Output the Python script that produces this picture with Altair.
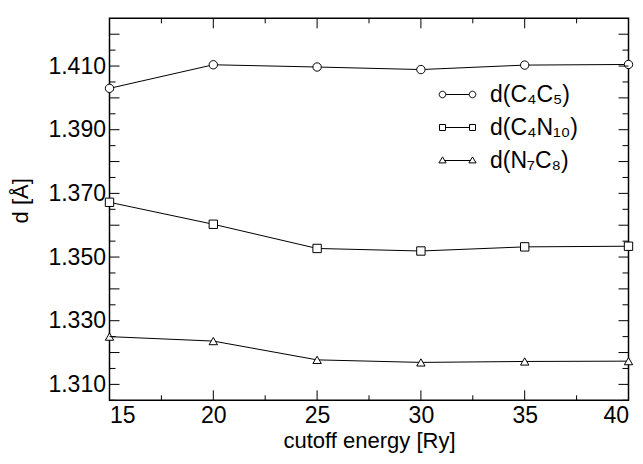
import altair as alt
import pandas as pd

# ---- data ----
cutoff = [15, 20, 25, 30, 35, 40]
d_c4c5 = [1.4030, 1.4104, 1.4097, 1.4089, 1.4103, 1.4105]
d_c4n10 = [1.3672, 1.3603, 1.3527, 1.3519, 1.3532, 1.3534]
d_n7c8 = [1.3250, 1.3236, 1.3177, 1.3169, 1.3172, 1.3173]
series = ["d(C₄C₅)", "d(C₄N₁₀)", "d(N₇C₈)"]

x_labels = [15, 20, 25, 30, 35, 40]
x_minor = [17.5, 22.5, 27.5, 32.5, 37.5]
y_labels = [1.31, 1.33, 1.35, 1.37, 1.39, 1.41]
y_major = [1.31, 1.32, 1.33, 1.34, 1.35, 1.36, 1.37, 1.38, 1.39, 1.40, 1.41, 1.42]
y_minor = [1.305, 1.315, 1.325, 1.335, 1.345, 1.355, 1.365, 1.375, 1.385,
           1.395, 1.405, 1.415]

W, H = 519, 382
FONT = "Liberation Sans"
FS = 22
LFS = 23

df = pd.DataFrame({
    "cutoff": cutoff * 3,
    "d": d_c4c5 + d_c4n10 + d_n7c8,
    "series": [series[0]] * 6 + [series[1]] * 6 + [series[2]] * 6,
})

xs = alt.Scale(domain=[15, 40], nice=False, zero=False)
ys = alt.Scale(domain=[1.305, 1.425], nice=False, zero=False)

x_axis = alt.Axis(values=x_labels, format="d", ticks=False, domain=False, grid=False,
                  labelFont=FONT, labelFontSize=LFS, labelPadding=4, labelColor="black",
                  title="cutoff energy [Ry]", titleFont=FONT, titleFontSize=FS,
                  titleFontWeight="normal", titleColor="black", titleY=47,
                  titleBaseline="alphabetic")
y_axis = alt.Axis(values=y_labels, format=".3f", ticks=False, domain=False, grid=False,
                  labelFont=FONT, labelFontSize=LFS, labelPadding=4, labelColor="black",
                  title="d [Å]", titleFont=FONT, titleFontSize=FS,
                  titleFontWeight="normal", titleColor="black",
                  titleX=-82.5, titleY=182, titleAlign="center",
                  titleBaseline="alphabetic")


def X(field):
    return alt.X(field, scale=xs, axis=x_axis)


def Y(field):
    return alt.Y(field, scale=ys, axis=y_axis)


lines = alt.Chart(df).mark_line(color="black", strokeWidth=1).encode(
    x=X("cutoff:Q"), y=Y("d:Q"), detail="series:N",
)

points = alt.Chart(df).mark_point(filled=True, fill="white", stroke="black",
                                  strokeWidth=1, size=70, opacity=1).encode(
    x=X("cutoff:Q"), y=Y("d:Q"),
    shape=alt.Shape("series:N",
                    scale=alt.Scale(domain=series, range=["circle", "square", "triangle-up"]),
                    legend=None),
)

legend_paths = [
    "M-0.78,0L0.78,0M-0.78,0A0.22,0.22 0 1,0 -1.22,0A0.22,0.22 0 1,0 -0.78,0Z"
    "M1.22,0A0.22,0.22 0 1,0 0.78,0A0.22,0.22 0 1,0 1.22,0Z",
    "M-0.8,0L0.8,0M-1.2,-0.2H-0.8V0.2H-1.2ZM0.8,-0.2H1.2V0.2H0.8Z",
    "M-0.85,0L0.85,0M-1,-0.24L-1.24,0.16H-0.76ZM1,-0.24L0.76,0.16H1.24Z",
]

legend_layer = alt.Chart(df).transform_filter("false").mark_point(
    filled=False, color="black", strokeWidth=1, size=900).encode(
    x=X("cutoff:Q"), y=Y("d:Q"),
    shape=alt.Shape("series:N",
                    scale=alt.Scale(domain=series, range=legend_paths),
                    legend=alt.Legend(title=None, orient="none", legendX=332.5, legendY=60.7,
                                      symbolSize=900, symbolStrokeWidth=1,
                                      symbolStrokeColor="black", symbolFillColor="white",
                                      symbolOpacity=1, labelFont=FONT, labelFontSize=LFS,
                                      labelColor="black", labelOffset=17, rowPadding=5,
                                      padding=0)),
)


def yticks(vals, length):
    d = pd.DataFrame({"d": vals})
    left = alt.Chart(d).mark_rule(color="black", strokeWidth=1).encode(
        y=Y("d:Q"), x=alt.value(0), x2=alt.value(length))
    right = alt.Chart(d).mark_rule(color="black", strokeWidth=1).encode(
        y=Y("d:Q"), x=alt.value(W), x2=alt.value(W - length))
    return [left, right]


def xticks(vals, length):
    d = pd.DataFrame({"cutoff": vals})
    bottom = alt.Chart(d).mark_rule(color="black", strokeWidth=1).encode(
        x=X("cutoff:Q"), y=alt.value(H), y2=alt.value(H - length))
    top = alt.Chart(d).mark_rule(color="black", strokeWidth=1).encode(
        x=X("cutoff:Q"), y=alt.value(0), y2=alt.value(length))
    return [bottom, top]


ticks = yticks(y_major, 10) + yticks(y_minor, 6) + xticks(x_labels, 10) + xticks(x_minor, 5)

chart = alt.layer(lines, points, *ticks, legend_layer).resolve_scale(
    shape="independent"
).properties(
    width=W, height=H,
    autosize=alt.AutoSizeParams(type="none"),
    padding={"left": 101.5, "top": 10.3, "right": 6.5, "bottom": 55.7},
    background="white",
).configure_view(stroke="black", strokeWidth=1.5)

chart.save("out.html", embed_options={"renderer": "svg", "actions": False})
